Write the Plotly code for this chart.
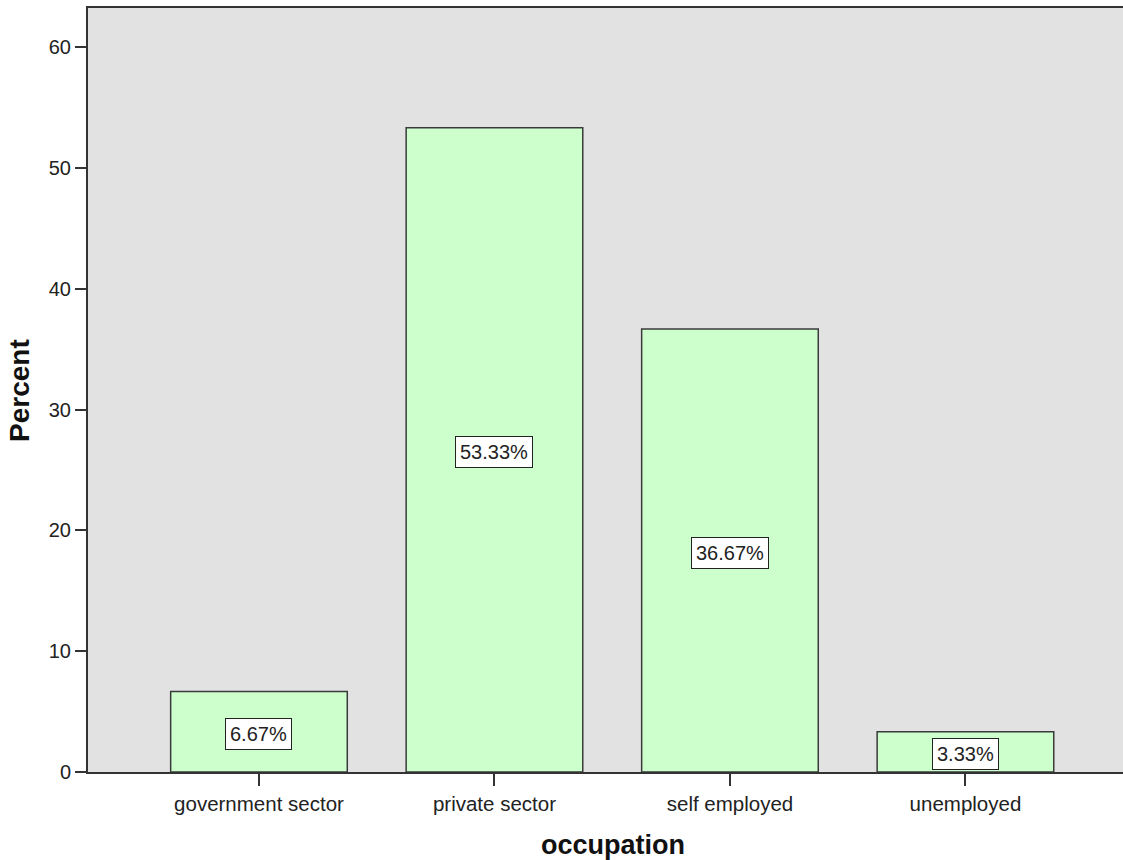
import plotly.graph_objects as go

categories = ["government sector", "private sector", "self employed", "unemployed"]
percents = [6.67, 53.33, 36.67, 3.33]
label_texts = ["6.67%", "53.33%", "36.67%", "3.33%"]
y_ticks = [0, 10, 20, 30, 40, 50, 60]

FONT = "Liberation Sans, Arial, sans-serif"
xpos = list(range(len(categories)))

fig = go.Figure()
fig.add_trace(go.Bar(
    x=xpos, y=percents, width=0.75,
    marker=dict(color="#ccffcc", line=dict(color="#3a3a3a", width=1.5)),
    hoverinfo="skip", showlegend=False,
))

for xp, v, t in zip(xpos, percents, label_texts):
    fig.add_annotation(
        x=xp, y=max(v / 2 - 0.2, 1.4), xref="x", yref="y",
        text=t, showarrow=False,
        font=dict(family=FONT, size=20, color="#222"),
        bgcolor="white", bordercolor="#222", borderwidth=1, borderpad=4,
        xanchor="center", yanchor="middle",
    )

fig.add_annotation(
    x=0.507, y=-0.0955, xref="paper", yref="paper", text="<b>occupation</b>",
    showarrow=False, font=dict(family=FONT, size=27, color="#111"),
    xanchor="center", yanchor="middle",
)
fig.add_annotation(
    x=-0.0657, y=0.4987, xref="paper", yref="paper", text="<b>Percent</b>",
    showarrow=False, textangle=-90, font=dict(family=FONT, size=28, color="#111"),
    xanchor="center", yanchor="middle",
)

fig.update_layout(
    width=1123, height=860,
    margin=dict(l=88, r=0, t=8, b=88),
    paper_bgcolor="white", plot_bgcolor="#e2e2e2",
    font=dict(family=FONT, size=20, color="#222"),
    xaxis=dict(
        tickmode="array", tickvals=xpos, ticktext=categories,
        range=[-0.726, 3.669], showgrid=False, zeroline=False,
        showline=True, linecolor="#333", linewidth=2, mirror=True,
        ticks="outside", ticklen=12, tickwidth=2, tickcolor="#333",
        tickfont=dict(family=FONT, size=20.5, color="#222"),
    ),
    yaxis=dict(
        tickmode="array", tickvals=y_ticks,
        range=[0, 63.25], showgrid=False, zeroline=False,
        showline=True, linecolor="#333", linewidth=2,
        ticks="outside", ticklen=11, tickwidth=2, tickcolor="#333",
        tickfont=dict(family=FONT, size=20, color="#222"),
    ),
)

fig.write_html("out.html")
